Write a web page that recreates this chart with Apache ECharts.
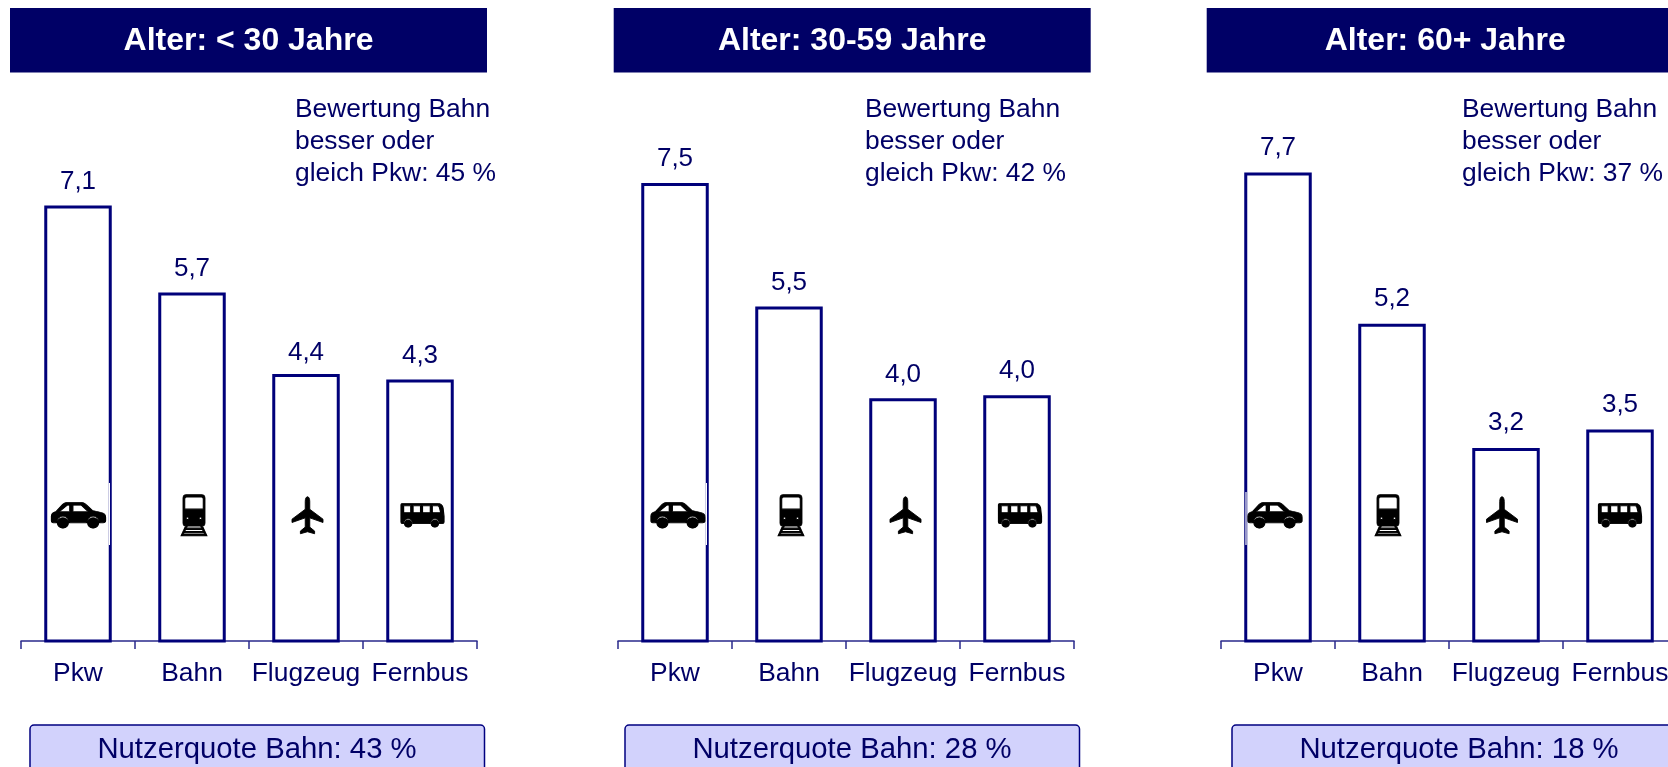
<!DOCTYPE html>
<html>
<head>
<meta charset="utf-8">
<style>
  html, body { margin: 0; padding: 0; background: #fff; overflow: hidden; }
  #main { width: 1668px; height: 767px; }
</style>
</head>
<body>
<div id="main"></div>
<script src="https://cdn.jsdelivr.net/npm/echarts@6/dist/echarts.min.js"></script>
<script>
var categories = ['Pkw', 'Bahn', 'Flugzeug', 'Fernbus']
var panelTitles = ['Alter: < 30 Jahre', 'Alter: 30-59 Jahre', 'Alter: 60+ Jahre']
var valuesYoung = [7.14, 5.72, 4.39, 4.3]
var valuesMiddle = [7.51, 5.49, 3.99, 4.04]
var valuesOld = [7.68, 5.21, 3.18, 3.48]
var ratingShares = [45, 42, 37]
var userShares = [43, 28, 18]

var navy = '#000066'
var font = '"Liberation Sans", Arial, sans-serif'

// 图标路径，孔洞靠反向绕行挖出来
var carPath = 'path://M1 30C1 24 5 21 10 20L24 5C27 2 30 1 34 1L60 1C64 1 67 2 70 5L84 18L102 22C107 23 110 27 110 32L110 38C110 41 108 43 105 43L98.5 43A13.5 13.5 0 0 0 71.5 43L37.5 43A13.5 13.5 0 0 0 10.5 43L5 43C2 43 1 41 1 38Z' +
  'M33 7L17 20L38 20L38 7ZM44 7L44 20L75 20L61 7Z' +
  'M13 43A11 11 0 1 0 35 43A11 11 0 1 0 13 43ZM74 43A11 11 0 1 0 96 43A11 11 0 1 0 74 43Z'
var trainPath = 'path://M6 10C6 3 10 0 16 0L63 0C70 0 74 3 74 10L74 86C74 92 70 95 64 95L16 95C10 95 6 92 6 86Z' +
  'M16 7L12 11L12 44L68 44L68 11L64 7Z' +
  'M16 72A4 4 0 1 0 24 72A4 4 0 1 0 16 72ZM56 72A4 4 0 1 0 64 72A4 4 0 1 0 56 72Z' +
  'M14 95L20 95L5 125L0 125ZM60 95L66 95L80 125L75 125Z' +
  'M12 102L68 102L68 106L12 106ZM8 112L72 112L72 116L8 116ZM3 121L77 121L77 125L3 125Z'
var planePath = 'path://M48 0C52 0 55 6 55 14L55 38L96 68L96 78L55 64L55 92L70 104L70 112L48 106L26 112L26 104L41 92L41 64L0 78L0 68L41 38L41 14C41 6 44 0 48 0Z'
var busPath = 'path://M5 0L112 0C122 0 127 5 129 14L132 40L132 58C132 61 130 63 127 63L119 63A15 15 0 0 0 89 63L37 63A15 15 0 0 0 7 63L4 63C1 63 0 61 0 58L0 5C0 2 2 0 5 0Z' +
  'M8 8L8 29L30 29L30 8ZM37 8L37 29L60 29L60 8ZM66 8L66 29L90 29L90 8ZM96 8L96 29L122 29L118 13C117 10 115 8 112 8Z' +
  'M11 63A11 11 0 1 0 33 63A11 11 0 1 0 11 63ZM93 63A11 11 0 1 0 115 63A11 11 0 1 0 93 63Z'
var iconPaths = [carPath, trainPath, planePath, busPath]
var iconSizes = [[54, 26], [26, 41], [31, 37], [43, 24]]
var iconLevel = 2.08

var panelValues = [valuesYoung, valuesMiddle, valuesOld]
var gridLefts = [21, 618, 1221]
var headerLefts = [10, 613.7, 1206.7]
var noteLefts = [295, 865, 1462]
var boxLefts = [30, 625, 1232]
var iconShifts = [[0.5, 2, 1.5, 2.5], [3, 2, 2.5, 3], [-3, -4, -4, 0]]
var labelGaps = [11, 11, 12]
// 原图里车的白底压掉了半条边框
var carMasks = [[108.8, 483, 1.2, 62], [705.8, 483, 1.2, 62], [1245.4, 492, 1.2, 53]]

var grids = []
var xAxes = []
var yAxes = []
var series = []
var graphics = []

panelTitles.forEach(function (title, i) {
  // 第三个面板超出画布，outerBoundsMode 关掉才不会被压缩
  grids.push({ left: gridLefts[i], top: 153, width: 456, height: 489.5, outerBoundsMode: 'none' })
  xAxes.push({
    type: 'category',
    gridIndex: i,
    data: categories,
    offset: -1.5, // 柱子边框是内缩的，底边要压在轴线上
    axisLine: { lineStyle: { color: '#2a2a8c', width: 1.5 } },
    axisTick: { show: true, length: 8, lineStyle: { color: '#2a2a8c', width: 1.5 } },
    axisLabel: { color: navy, fontFamily: font, fontSize: 26.4, margin: 20, interval: 0, hideOverlap: false }
  })
  yAxes.push({ type: 'value', gridIndex: i, min: 0, max: 8, show: false })
  series.push({
    type: 'bar',
    xAxisIndex: i,
    yAxisIndex: i,
    data: panelValues[i].map(function (v) {
      // 4,4 这个标签在原图里离柱子更近
      return v === 4.39 ? { value: v, label: { distance: 8 } } : v
    }),
    barWidth: 67.5,
    silent: true,
    itemStyle: { color: '#fff', borderColor: '#00007a', borderWidth: 3 },
    label: {
      show: true,
      position: 'top',
      distance: labelGaps[i],
      color: navy,
      fontFamily: font,
      fontSize: 26,
      formatter: function (p) {
        return p.value.toFixed(1).replace('.', ',')
      }
    }
  })
  // 图标放在同一坐标系里，跟柱子对齐
  series.push({
    type: 'scatter',
    xAxisIndex: i,
    yAxisIndex: i,
    silent: true,
    z: 5,
    data: categories.map(function (c, k) {
      return {
        value: [k, iconLevel],
        symbol: iconPaths[k],
        symbolSize: iconSizes[k],
        symbolOffset: [iconShifts[i][k], 0],
        itemStyle: { color: '#000', opacity: 1, borderColor: '#000', borderWidth: 0.9 }
      }
    })
  })

  graphics.push({
    type: 'rect',
    shape: { x: headerLefts[i], y: 8, width: 477, height: 64.5 },
    style: { fill: navy }
  })
  graphics.push({
    type: 'text',
    x: headerLefts[i] + 238.5,
    y: 41.5,
    style: { text: title, fill: '#fff', font: 'bold 32px ' + font, textAlign: 'center', textVerticalAlign: 'middle' }
  })
  graphics.push({
    type: 'text',
    x: noteLefts[i],
    y: 94,
    style: {
      text: 'Bewertung Bahn\nbesser oder\ngleich Pkw: ' + ratingShares[i] + ' %',
      fill: navy,
      font: '26.4px ' + font,
      lineHeight: 32
    }
  })
  graphics.push({
    type: 'rect',
    shape: { x: boxLefts[i], y: 725, width: 454.5, height: 60, r: 4 },
    style: { fill: '#d2d2fc', stroke: '#000080', lineWidth: 1.5 }
  })
  graphics.push({
    type: 'text',
    x: boxLefts[i] + 227,
    y: 750,
    style: { text: 'Nutzerquote Bahn: ' + userShares[i] + ' %', fill: navy, font: '29.3px ' + font, textAlign: 'center', textVerticalAlign: 'middle' }
  })
  graphics.push({
    type: 'rect',
    z: 100,
    shape: { x: carMasks[i][0], y: carMasks[i][1], width: carMasks[i][2], height: carMasks[i][3] },
    style: { fill: '#fff' }
  })
})

var chart = echarts.init(document.getElementById('main'), null, { renderer: 'canvas' })
chart.setOption({
  animation: false,
  backgroundColor: '#fff',
  grid: grids,
  xAxis: xAxes,
  yAxis: yAxes,
  series: series,
  graphic: graphics
})
</script>
</body>
</html>
